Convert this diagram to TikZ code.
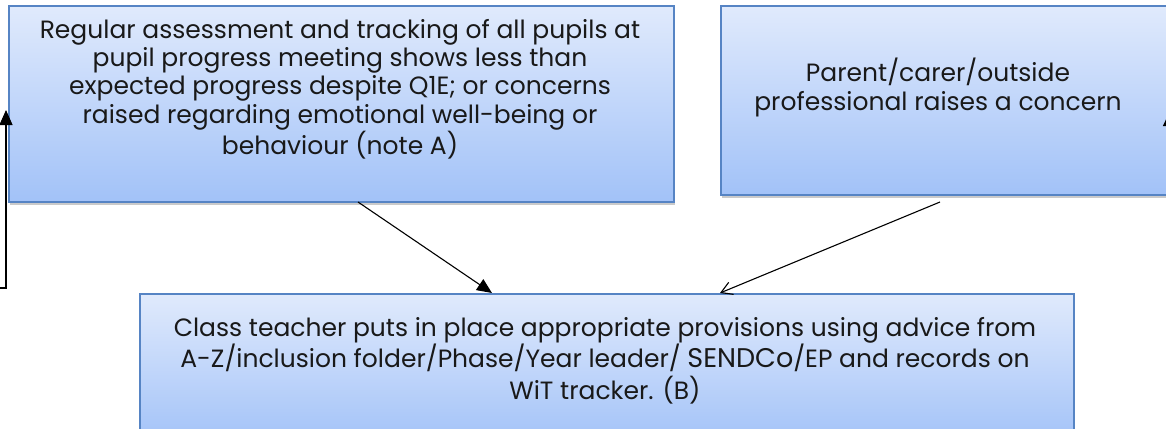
\documentclass[tikz,border=0pt]{standalone}
\usepackage{fontspec}
\setmainfont{Poppins}
\usetikzlibrary{arrows.meta,shadows,calc}
\definecolor{boxtop}{RGB}{224,234,252}
\definecolor{boxbot}{RGB}{162,194,248}
\definecolor{boxline}{RGB}{86,132,196}
\tikzset{
  flowbox/.style={draw=boxline, line width=1.6pt, top color=boxtop, bottom color=boxbot,
    drop shadow={shadow xshift=1pt, shadow yshift=-3pt, opacity=0.35, fill=black!60},
    inner sep=0pt, anchor=north west},
  boxtext/.style={align=center, font=\fontsize{25}{28.3}\selectfont, text=black!90, inner sep=0pt},
  conn/.style={line width=1.1pt, draw=black},
}
\begin{document}
\begin{tikzpicture}[x=1pt,y=-1pt]
\useasboundingbox (0,0) rectangle (1166,428);
% boxes
\node[flowbox, minimum width=665pt, minimum height=196pt] (b1) at (8,5) {};
\node[flowbox, minimum width=460pt, minimum height=189pt] (b2) at (720,5) {};
\node[flowbox, minimum width=934pt, minimum height=150pt] (b3) at (139,293) {};
% texts
\node[boxtext, anchor=north] (t1) at (340,19) {Regular assessment and tracking of all pupils at\\
pupil progress meeting shows less than\\
expected progress despite Q1E; or concerns\\
raised regarding emotional well-being or\\
behaviour (note A)};
\node[boxtext, anchor=north] (t2) at (938,58) {Parent/carer/outside\\professional raises a concern};
\node[boxtext, anchor=north, font=\fontsize{25}{31.5}\selectfont] (t3) at (605,317) {Class teacher puts in place appropriate provisions using advice from\\
A-Z/inclusion folder/Phase/Year leader/ {\fontsize{27}{31.5}\selectfont SENDCo}/EP and records on\\
WiT tracker. (B)};
% connectors
\coordinate (s1) at (358,202);
\coordinate (e1) at (492,293);
\coordinate (s2) at (940,202);
\coordinate (e2) at (720,293);
\draw[conn, -{Triangle[length=15pt,width=13pt]}] (s1) -- (e1);
\draw[conn, -{Straight Barb[length=11pt,width=13pt]}] (s2) -- (e2);
\coordinate (l0) at (0,288);
\coordinate (l1) at (6,288);
\coordinate (l2) at (6,110);
\draw[conn, -{Triangle[length=15pt,width=13pt]}] (l0) -- (l1) -- (l2);
\coordinate (r0) at (1169.5,150);
\coordinate (r1) at (1169.5,112);
\draw[conn, -{Triangle[length=14pt,width=13pt]}] (r0) -- (r1);
\end{tikzpicture}
\end{document}
